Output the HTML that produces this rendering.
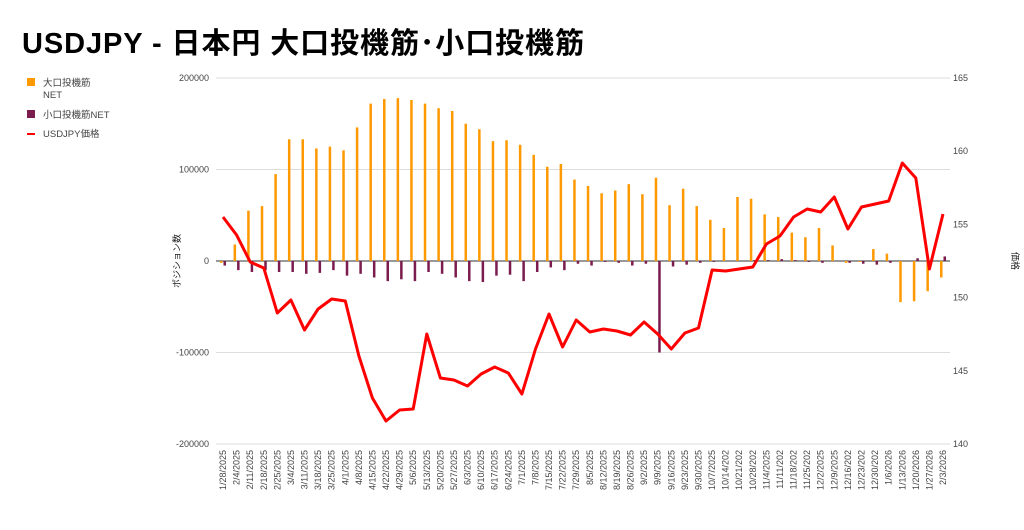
<!DOCTYPE html>
<html><head><meta charset="utf-8"><style>
body{margin:0;background:#fff;width:1024px;height:525px;overflow:hidden;font-family:"Liberation Sans","Noto Sans CJK JP",sans-serif}
</style></head><body>
<svg id="s" width="1024" height="525" xmlns="http://www.w3.org/2000/svg" font-family="Liberation Sans, Noto Sans CJK JP, sans-serif">
<text x="22" y="53" font-size="29" font-weight="bold" fill="#000" textLength="562">USDJPY - 日本円 大口投機筋･小口投機筋</text>
<rect x="27" y="78" width="8" height="8" fill="#ff9900"/>
<text x="43" y="86" font-size="9.5" fill="#444">大口投機筋</text>
<text x="43" y="98" font-size="9.5" fill="#444">NET</text>
<rect x="27" y="110" width="8" height="8" fill="#7b1c4e"/>
<text x="43" y="118" font-size="9.5" fill="#444">小口投機筋NET</text>
<rect x="27" y="133" width="8" height="2" fill="#f00"/>
<text x="43" y="137" font-size="9.5" fill="#444">USDJPY価格</text>
<text transform="translate(180,261) rotate(-90)" text-anchor="middle" font-size="9" fill="#222">ポジション数</text>
<text transform="translate(1012,261) rotate(90)" text-anchor="middle" font-size="9" fill="#222">価格</text>
</svg>
<script>
var s=document.getElementById('s'),h='';
var L=[['200000',78],['100000',169.5],['0',261],['-100000',352.5],['-200000',444]];
var R=['165','160','155','150','145','140'];
for(var i=0;i<5;i++){h+='<line x1="216" x2="950" y1="'+L[i][1]+'" y2="'+L[i][1]+'" stroke="'+(i==2?'#333':'#ddd')+'" stroke-width="1"/>';
h+='<text x="209" y="'+(L[i][1]+3)+'" text-anchor="end" font-size="9" fill="#444">'+L[i][0]+'</text>';}
for(var i=0;i<6;i++){h+='<text x="953" y="'+(78+i*73.2+3)+'" font-size="9" fill="#444">'+R[i]+'</text>';}
var o=[-2,18,55,60,95,133,133,123,125,121,146,172,177,178,176,172,167,164,150,144,131,132,127,116,103,106,89,82,74,77,84,73,91,61,79,60,45,36,70,68,51,48,31,26,36,17,-2,-1,13,8,-45,-44,-33,-18];
var p=[-5,-10,-12,-10,-12,-12,-14,-13,-10,-16,-14,-18,-22,-20,-22,-12,-14,-18,-22,-23,-16,-15,-22,-12,-7,-10,-3,-5,-1,-2,-5,-3,-100,-6,-4,-2,-1,0,0,1,1,2,1,-1,-2,0,-2,-3,-4,-2,0,3,0,5];
var y=[217,235,262,268,313,300,330,309,299,301,356,398,421,410,409,334,378,380,386,374,367,373,394,349,314,347,320,332,329,331,335,322,334,349,333,328,270,271,269,267,244,236,217,209,212,197,229,207,204,201,163,178,269,214];
var d=['1/28/2025','2/4/2025','2/11/2025','2/18/2025','2/25/2025','3/4/2025','3/11/2025','3/18/2025','3/25/2025','4/1/2025','4/8/2025','4/15/2025','4/22/2025','4/29/2025','5/6/2025','5/13/2025','5/20/2025','5/27/2025','6/3/2025','6/10/2025','6/17/2025','6/24/2025','7/1/2025','7/8/2025','7/15/2025','7/22/2025','7/29/2025','8/5/2025','8/12/2025','8/19/2025','8/26/2025','9/2/2025','9/9/2025','9/16/2025','9/23/2025','9/30/2025','10/7/2025','10/14/202','10/21/202','10/28/202','11/4/2025','11/11/202','11/18/202','11/25/202','12/2/2025','12/9/2025','12/16/202','12/23/202','12/30/202','1/6/2026','1/13/2026','1/20/2026','1/27/2026','2/3/2026'];
var pts=[];
for(var i=0;i<54;i++){var x=223+i*13.585;
var v=o[i]*0.915;h+='<rect x="'+(x-3)+'" y="'+(v>0?261-v:261)+'" width="2.5" height="'+Math.abs(v)+'" fill="#ff9900"/>';
var w=p[i]*0.915;h+='<rect x="'+(x+0.5)+'" y="'+(w>0?261-w:261)+'" width="2.5" height="'+Math.abs(w)+'" fill="#7b1c4e"/>';
pts.push(x.toFixed(1)+','+y[i]);
h+='<text transform="translate('+(x+3)+',450) rotate(-90)" text-anchor="end" font-size="9" fill="#444">'+d[i]+'</text>';}
h+='<polyline points="'+pts.join(' ')+'" fill="none" stroke="#f00" stroke-width="3" stroke-linejoin="round"/>';
s.insertAdjacentHTML('beforeend',h);
</script>
</body></html>
